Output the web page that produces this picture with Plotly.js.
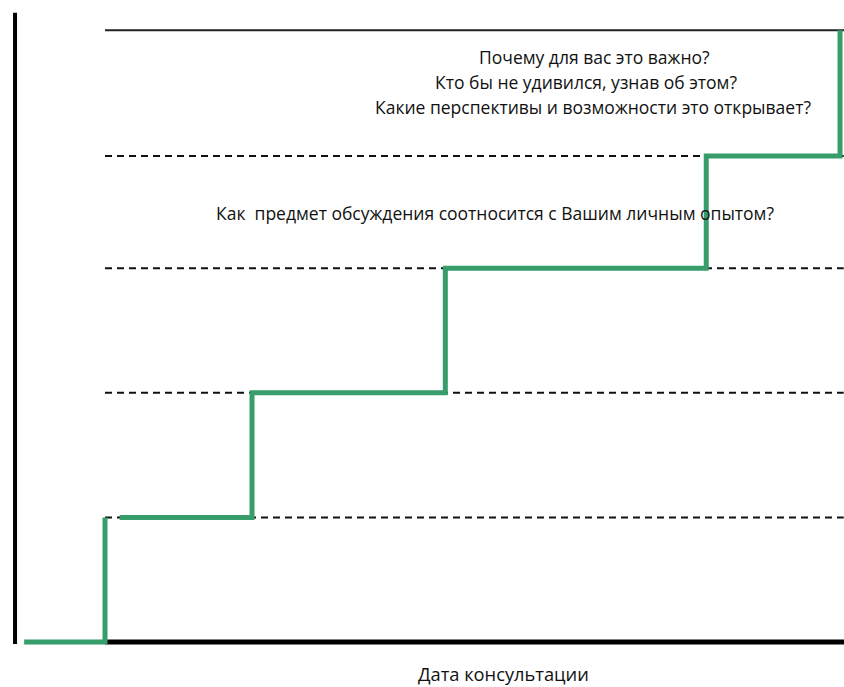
<!DOCTYPE html>
<html>
<head>
<meta charset="utf-8">
<script src="https://cdn.plot.ly/plotly-3.0.1.min.js"></script>
<style>
  html, body { margin: 0; padding: 0; background: #ffffff; }
  #chart { width: 844px; height: 687px; }
</style>
</head>
<body>
<div id="chart"></div>
<script>
// ---- data ----
// consultation positions where the level changes (arbitrary date units)
const stepDates = [-1.1, 0, 2, 4.63, 8.18, 10.0];
// reflection level reached after each step
const stepLevels = [0, 1, 2, 3, 3.9, 4.91];
// the level-1 segment starts a little after the first rise
const gapEnd = 0.2;
// guide levels (dashed) and the top level (solid)
const guideLevels = [1, 2, 3, 3.9];
const topLevel = 4.91;
// question labels
const questionTexts = [
  "Почему для вас это важно?",
  "Кто бы не удивился, узнав об этом?",
  "Какие перспективы и возможности это открывает?",
  "Как\u00A0\u00A0предмет обсуждения соотносится с Вашим личным опытом?"
];
const questionDates = [6.653, 6.544, 6.639, 5.299];
const questionLevels = [4.695, 4.494, 4.294, 3.443];
const xTitle = "Дата консультации";

// ---- chart ----
const green = "#379e6b";
const font = "Open Sans, Noto Sans, sans-serif";

const traces = [
  { // first rise
    x: stepDates.slice(0, 2),
    y: stepLevels.slice(0, 2),
    mode: "lines",
    line: { shape: "hv", color: green, width: 5 },
    hoverinfo: "skip", showlegend: false
  },
  { // rest of staircase
    x: [gapEnd].concat(stepDates.slice(2)),
    y: stepLevels.slice(1),
    mode: "lines",
    line: { shape: "hv", color: green, width: 5 },
    hoverinfo: "skip", showlegend: false
  }
];

const shapes = [];
guideLevels.forEach(function (lv) {
  shapes.push({ type: "line", xref: "x", yref: "y", x0: 0, x1: 10.05, y0: lv, y1: lv,
    line: { color: "#111", width: 2, dash: "7px,5px" }, layer: "below" });
});
shapes.push({ type: "line", xref: "x", yref: "y", x0: 0, x1: 10.06, y0: topLevel, y1: topLevel,
  line: { color: "#222", width: 2 }, layer: "below" });
// bottom axis (date axis)
shapes.push({ type: "line", xref: "x", yref: "y", x0: 0, x1: 10.06, y0: 0, y1: 0,
  line: { color: "#000", width: 5 }, layer: "below" });
// left axis (level axis)
shapes.push({ type: "line", xref: "x", yref: "y", x0: -1.224, x1: -1.224, y0: -0.016, y1: 5.05,
  line: { color: "#000", width: 4 }, layer: "below" });

const annotations = questionTexts.map(function (t, i) {
  return { text: t, x: questionDates[i], y: questionLevels[i], xref: "x", yref: "y",
    showarrow: false, xanchor: "center", yanchor: "middle",
    font: { family: font, size: 17.5, color: "#111" } };
});
annotations.push({ text: xTitle, x: 5.415, y: -0.255, xref: "x", yref: "y",
  showarrow: false, xanchor: "center", yanchor: "middle",
  font: { family: font, size: 18.3, color: "#111" } });

const layout = {
  width: 844, height: 687,
  margin: { l: 0, r: 0, t: 0, b: 0 },
  paper_bgcolor: "#ffffff", plot_bgcolor: "#ffffff",
  xaxis: { range: [-1.4286, 10.054], showgrid: false, zeroline: false, showline: false,
    showticklabels: false, ticks: "", fixedrange: true },
  yaxis: { range: [-0.361, 5.152], showgrid: false, zeroline: false, showline: false,
    showticklabels: false, ticks: "", fixedrange: true },
  shapes: shapes,
  annotations: annotations,
  showlegend: false
};

Plotly.newPlot("chart", traces, layout, { displayModeBar: false, staticPlot: true });
</script>
</body>
</html>
